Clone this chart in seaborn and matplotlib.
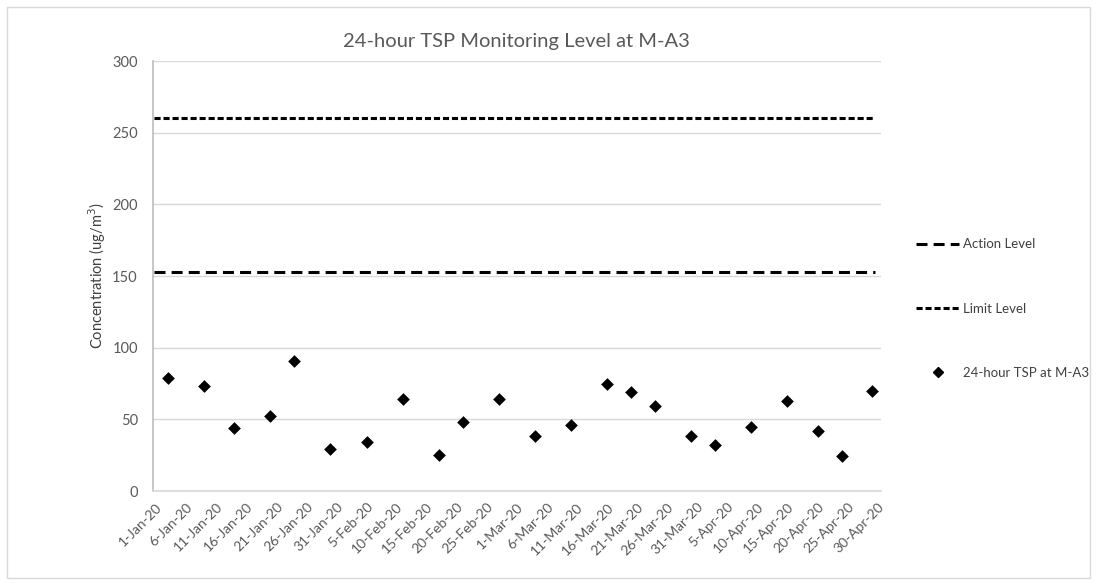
import pandas as pd
import matplotlib.pyplot as plt
from matplotlib.lines import Line2D
from matplotlib.patches import Rectangle
import seaborn as sns

# sampling days and 24-hour TSP results (ug/m3)
sample_dates = ["2020-01-03", "2020-01-09", "2020-01-14", "2020-01-20", "2020-01-24",
                "2020-01-30", "2020-02-05", "2020-02-11", "2020-02-17", "2020-02-21",
                "2020-02-27", "2020-03-04", "2020-03-10", "2020-03-16", "2020-03-20",
                "2020-03-24", "2020-03-30", "2020-04-03", "2020-04-09", "2020-04-15",
                "2020-04-20", "2020-04-24", "2020-04-29"]
tsp_values = [78.9, 73.3, 43.8, 52.6, 90.5, 29.3, 34.2, 64.2, 25.1, 48.4, 64.2, 38.7,
              46.3, 74.5, 68.9, 59.1, 38.4, 32.1, 44.9, 62.8, 41.9, 24.4, 69.8]

action_level = 153
limit_level = 260

tick_labels = ["1-Jan-20", "6-Jan-20", "11-Jan-20", "16-Jan-20", "21-Jan-20", "26-Jan-20",
               "31-Jan-20", "5-Feb-20", "10-Feb-20", "15-Feb-20", "20-Feb-20", "25-Feb-20",
               "1-Mar-20", "6-Mar-20", "11-Mar-20", "16-Mar-20", "21-Mar-20", "26-Mar-20",
               "31-Mar-20", "5-Apr-20", "10-Apr-20", "15-Apr-20", "20-Apr-20", "25-Apr-20",
               "30-Apr-20"]

sns.set_theme(style="white")
plt.rcParams['font.family'] = ['Lato', 'DejaVu Sans']

half_day = pd.Timedelta(hours=12)
df = pd.DataFrame({"date": pd.to_datetime(sample_dates) + half_day, "tsp": tsp_values})
levels = pd.DataFrame({"date": pd.to_datetime(["2020-01-01", "2020-04-30"]) + pd.Timedelta(hours=2),
                       "action": [action_level] * 2, "limit": [limit_level] * 2})
tick_pos = pd.date_range("2020-01-01", "2020-04-30", freq="5D") + half_day

fig = plt.figure(figsize=(10.97, 5.84), dpi=100)
# light chart-area border like the spreadsheet export
fig.patches.append(Rectangle((0.0065, 0.011), 0.987, 0.977, transform=fig.transFigure,
                             fill=False, edgecolor="#d9d9d9", linewidth=1))
ax = fig.add_axes([0.1395, 0.1592, 0.6633, 0.7363])

sns.lineplot(data=levels, x="date", y="limit", ax=ax, color="black", linewidth=2.2,
             linestyle=(0, (2.0, 0.95)))
sns.lineplot(data=levels, x="date", y="action", ax=ax, color="black", linewidth=2.2,
             linestyle=(0, (3.6, 2.0)))
sns.scatterplot(data=df, x="date", y="tsp", ax=ax, marker="D", color="black", s=42,
                edgecolor="black", linewidth=0, zorder=3)

ax.set_xlim(pd.Timestamp("2020-01-01"), pd.Timestamp("2020-05-01"))
ax.set_ylim(0, 300)
ax.set_yticks(range(0, 301, 50))
ax.set_xticks(tick_pos)
ax.set_xticklabels(tick_labels, rotation=45, ha="right", rotation_mode="anchor",
                   fontsize=10, color="#595959")
ax.tick_params(axis="x", length=0, pad=7)
ax.tick_params(axis="y", length=0, pad=11, labelsize=10.5, labelcolor="#595959")
ax.yaxis.grid(True, color="#d9d9d9", linewidth=1)
ax.xaxis.grid(False)
for side in ["top", "right"]:
    ax.spines[side].set_visible(False)
ax.spines["left"].set_color("#bfbfbf")
ax.spines["bottom"].set_color("#d9d9d9")

ax.set_xlabel("")
ax.set_ylabel("Concentration (ug/m$^3$)", fontsize=10.5, color="#404040")
ax.yaxis.set_label_coords(-0.062, 0.5)
ax.set_title("24-hour TSP Monitoring Level at M-A3", fontsize=14.5, color="#595959", pad=10)

handles = [Line2D([], [], color="black", linewidth=2.2, linestyle=(0, (3.6, 2.0))),
           Line2D([], [], color="black", linewidth=2.2, linestyle=(0, (2.0, 0.95))),
           Line2D([], [], color="black", marker="D", linestyle="", markersize=5)]
fig.legend(handles, ["Action Level", "Limit Level", "24-hour TSP at M-A3"],
           loc="upper left", bbox_to_anchor=(0.824, 0.612), frameon=False, fontsize=9.5,
           labelspacing=3.95, handlelength=3.3, handletextpad=0.25,
           labelcolor="#404040")

fig.savefig("out.png", dpi=100)
